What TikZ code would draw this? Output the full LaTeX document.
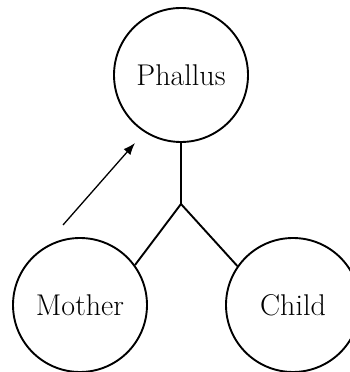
\documentclass[tikz,border=0pt]{standalone}
\usepackage{tikz}
\usetikzlibrary{arrows.meta}
\begin{document}
\begin{tikzpicture}[x=1pt, y=1pt,
    figure/.style={circle, draw, line width=1.9pt, minimum size=134pt, inner sep=0pt, font=\fontsize{30}{34}\selectfont},
    tie/.style={line width=1.9pt},
]
            \useasboundingbox (0, 0) rectangle (350, 372);
            \node[figure] (phallus) at (181, 297) {Phallus};
            \node[figure] (mother) at (80, 67) {Mother};
            \node[figure] (child) at (293, 67) {Child};
            \coordinate (fork) at (181, 168);
            \coordinate (from) at (63, 147);
            \coordinate (to) at (135, 229);
            \draw[tie] (phallus.south) -- (fork);
            \draw[tie] (fork) -- (mother.36);
            \draw[tie] (fork) -- (child.145);
            \draw[-{Latex[length=12pt, width=9pt]}, line width=1.3pt] (from) -- (to);
        \end{tikzpicture}
\end{document}
